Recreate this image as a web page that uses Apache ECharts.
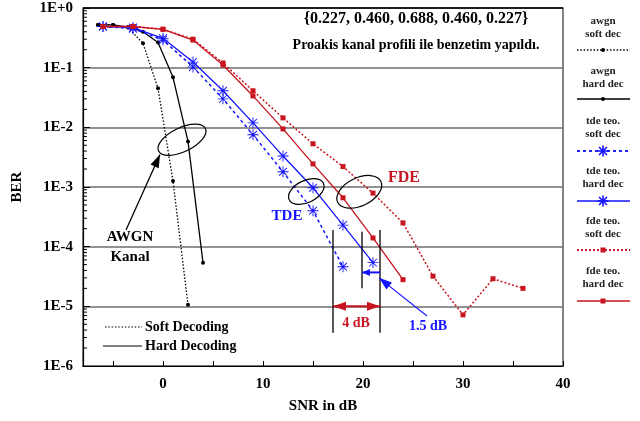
<!DOCTYPE html>
<html>
<head>
<meta charset="utf-8">
<script src="https://cdn.jsdelivr.net/npm/echarts@6/dist/echarts.min.js"></script>
<style>
  html, body { margin: 0; padding: 0; background: #fff; }
  #chart { width: 640px; height: 421px; }
</style>
</head>
<body>
<div id="chart"></div>
<script>
// ---- data ----
const snrAwgn = [-6.5, -5, -3.5, -2, -0.5, 1, 2.5, 4];
const awgnSoft = [0.52, 0.52, 0.47, 0.256, 0.045, 1.26e-3, 1.06e-5];
const awgnHard = [0.52, 0.52, 0.48, 0.40, 0.264, 0.069, 5.8e-3, 5.4e-5];

const snrTde = [-6, -3, 0, 3, 6, 9, 12, 15, 18, 21];
const tdeSoft = [0.49, 0.45, 0.29, 0.103, 0.030, 7.5e-3, 1.8e-3, 4.0e-4, 4.6e-5];
const tdeHard = [0.49, 0.47, 0.31, 0.124, 0.041, 0.0119, 3.3e-3, 9.7e-4, 2.3e-4, 5.4e-5];

const snrFde = [-6, -3, 0, 3, 6, 9, 12, 15, 18, 21, 24, 27, 30, 33, 36];
const fdeSoft = [0.49, 0.49, 0.44, 0.30, 0.12, 0.041, 0.0144, 5.3e-3, 2.2e-3, 7.9e-4, 2.5e-4, 3.2e-5, 7.2e-6, 2.9e-5, 2.0e-5];
const fdeHard = [0.49, 0.49, 0.44, 0.29, 0.111, 0.0336, 9.4e-3, 2.44e-3, 6.6e-4, 1.4e-4, 2.8e-5];

const xTickValues = [-5, 0, 5, 10, 15, 20, 25, 30, 35, 40];
const xLabelValues = [0, 10, 20, 30, 40];
const yTickLabels = ['1E+0', '1E-1', '1E-2', '1E-3', '1E-4', '1E-5', '1E-6'];

const legendNames = ['awgn\nsoft dec', 'awgn\nhard dec', 'tde teo.\nsoft dec',
                     'tde teo.\nhard dec', 'fde teo.\nsoft dec', 'fde teo.\nhard dec'];

// ---- styling ----
const FONT = '"Liberation Serif", "Times New Roman", serif';
const BLUE = '#1414ff';
const RED = '#c8141e';
const BLACK = '#000';
const ASTERISK = 'path://M0 9.2H20V10.8H0Z M9.2 0H10.8V20H9.2Z M2.3 3.5L3.5 2.3L17.7 16.5L16.5 17.7Z M16.5 2.3L17.7 3.5L3.5 17.7L2.3 16.5Z';

const zip = (xs, ys) => ys.map((v, i) => [xs[i], v]);

// minor ticks of the log axis (2..9 x 10^k), drawn on the left edge
const minorTicks = [];
for (let k = -6; k < 0; k++) {
  for (let m = 2; m <= 9; m++) minorTicks.push([-8, m * Math.pow(10, k)]);
}

const chart = echarts.init(document.getElementById('chart'), null, { renderer: 'canvas' });

const seriesDefs = [
  { data: zip(snrAwgn, awgnSoft), color: BLACK, dash: [1.5, 1.8], width: 1.3, symbol: 'circle', size: 4 },
  { data: zip(snrAwgn, awgnHard), color: BLACK, dash: 'solid', width: 1.3, symbol: 'circle', size: 4 },
  { data: zip(snrTde, tdeSoft), color: BLUE, dash: [3, 3], width: 1.5, symbol: ASTERISK, size: 11 },
  { data: zip(snrTde, tdeHard), color: BLUE, dash: 'solid', width: 1.3, symbol: ASTERISK, size: 11 },
  { data: zip(snrFde, fdeSoft), color: RED, dash: [2, 2], width: 1.5, symbol: 'rect', size: 5 },
  { data: zip(snrFde, fdeHard), color: RED, dash: 'solid', width: 1.3, symbol: 'rect', size: 5 }
];

const lineSeries = seriesDefs.map((d, i) => ({
  type: 'line',
  name: legendNames[i],
  data: d.data,
  symbol: d.symbol,
  symbolSize: d.size,
  showAllSymbol: true,
  lineStyle: { color: d.color, width: d.width, type: d.dash },
  itemStyle: { color: d.color },
  z: 3 + i
}));

chart.setOption({
  animation: false,
  backgroundColor: '#fff',
  grid: { left: 83, right: 77, top: 8, bottom: 55, show: true, borderColor: '#333', borderWidth: 1.2, backgroundColor: 'transparent' },
  xAxis: {
    type: 'value', min: -8, max: 40,
    axisLine: { onZero: false, lineStyle: { color: BLACK, width: 1.2 } },
    axisTick: { inside: true, length: 5, customValues: xTickValues, lineStyle: { color: BLACK } },
    axisLabel: { customValues: xLabelValues, fontFamily: FONT, fontWeight: 'bold', fontSize: 15, color: BLACK, margin: 11 },
    splitLine: { show: false },
    name: 'SNR in dB', nameLocation: 'middle', nameGap: 33,
    nameTextStyle: { fontFamily: FONT, fontWeight: 'bold', fontSize: 15, color: BLACK }
  },
  yAxis: {
    type: 'log', logBase: 10, min: 1e-6, max: 1, splitNumber: 6,
    axisLine: { show: true, onZero: false, lineStyle: { color: BLACK, width: 1.2 } },
    axisTick: { show: true, inside: true, length: 7, lineStyle: { color: BLACK } },
    axisLabel: {
      fontFamily: FONT, fontWeight: 'bold', fontSize: 15, color: BLACK, margin: 10,
      formatter: v => yTickLabels[-Math.round(Math.log10(v))]
    },
    splitLine: { show: true, lineStyle: { color: '#6e6e6e', width: 1.5 } },
    name: 'BER', nameLocation: 'middle', nameGap: 58, nameRotate: 90,
    nameTextStyle: { fontFamily: FONT, fontWeight: 'bold', fontSize: 15, color: BLACK }
  },
  series: lineSeries.concat([{
    type: 'custom',
    silent: true,
    clip: false,
    data: minorTicks,
    z: 10,
    renderItem: (params, api) => {
      const p = api.coord([api.value(0), api.value(1)]);
      return { type: 'line', shape: { x1: p[0], y1: p[1], x2: p[0] + 4, y2: p[1] }, style: { stroke: BLACK, lineWidth: 1 } };
    }
  }])
});

// ---- annotations (anchored in data coordinates) ----
const px = (x, y) => chart.convertToPixel({ gridIndex: 0 }, [x, y]);
const txt = (s, p, size, color, align) => ({
  type: 'text', z: 50, silent: true,
  style: { text: s, x: p[0], y: p[1], font: 'bold ' + size + 'px ' + FONT, fill: color, align: align || 'center', verticalAlign: 'middle' }
});
const seg = (a, b, color, w, dash) => ({
  type: 'line', z: 50, silent: true,
  shape: { x1: a[0], y1: a[1], x2: b[0], y2: b[1] },
  style: { stroke: color, lineWidth: w, lineDash: dash || null }
});
const head = (tip, from, len, hw, color) => {
  const dx = tip[0] - from[0], dy = tip[1] - from[1];
  const L = Math.hypot(dx, dy), ux = dx / L, uy = dy / L;
  const bx = tip[0] - ux * len, by = tip[1] - uy * len;
  return {
    type: 'polygon', z: 51, silent: true,
    shape: { points: [tip, [bx - uy * hw, by + ux * hw], [bx + uy * hw, by - ux * hw]] },
    style: { fill: color }
  };
};
const ell = (c, rx, ry, rot) => ({
  type: 'ellipse', z: 50, silent: true, x: c[0], y: c[1], rotation: rot,
  shape: { cx: 0, cy: 0, rx: rx, ry: ry },
  style: { fill: 'none', stroke: BLACK, lineWidth: 1.2 }
});
// eight-spoke star made of plain lines
const star = (cx, cy, r, color) => {
  const d = r * 0.72;
  return {
    type: 'group', z: 52, silent: true,
    children: [
      [[cx - r, cy], [cx + r, cy]], [[cx, cy - r], [cx, cy + r]],
      [[cx - d, cy - d], [cx + d, cy + d]], [[cx - d, cy + d], [cx + d, cy - d]]
    ].map(s => ({ type: 'line', shape: { x1: s[0][0], y1: s[0][1], x2: s[1][0], y2: s[1][1] }, style: { stroke: color, lineWidth: 1.6 } }))
  };
};

const g = [];
// top edge of the frame
g.push(seg(px(-8, 1), px(40, 1), BLACK, 1.4));

// AWGN group
g.push(ell(px(1.9, 6.2e-3), 26, 12, 0.45));
const aFrom = px(-3.7, 1.9e-4), aTo = px(-0.3, 3.5e-3);
g.push(seg(aFrom, aTo, BLACK, 1.3));
g.push(head(aTo, aFrom, 13, 4.5, BLACK));
g.push(txt('AWGN', px(-3.3, 1.42e-4), 15, BLACK));
g.push(txt('Kanal', px(-3.3, 6.6e-5), 15, BLACK));

// equalizer groups
g.push(ell(px(14.33, 8.4e-4), 19, 11, 0.45));
g.push(ell(px(19.63, 8.3e-4), 24, 14, 0.45));
g.push(txt('FDE', px(24.1, 1.4e-3), 16, RED));
g.push(txt('TDE', px(12.4, 3.3e-4), 15, BLUE));

// gain markers
g.push(seg(px(17, 1.9e-4), px(17, 3.6e-6), BLACK, 1.3));
g.push(seg(px(21.7, 1.9e-4), px(21.7, 3.6e-6), BLACK, 1.3));
g.push(seg(px(19.9, 1.78e-4), px(19.9, 2.0e-5), BLACK, 1.3));
const rA = px(17, 1e-5), rB = px(21.7, 1e-5);
g.push(seg(rA, rB, RED, 2));
g.push(head(rA, rB, 13, 4.5, RED));
g.push(head(rB, rA, 13, 4.5, RED));
g.push(txt('4 dB', px(19.3, 5.1e-6), 14, RED));
const bA = px(21.7, 3.7e-5), bB = px(19.9, 3.7e-5);
g.push(seg(bA, bB, BLUE, 2));
g.push(head(bB, bA, 8, 3.5, BLUE));
const lFrom = px(26.4, 6.9e-6), lTo = px(21.6, 3.0e-5);
g.push(seg(lFrom, lTo, BLUE, 1.1));
g.push(head(lTo, lFrom, 13, 4.5, BLUE));
g.push(txt('1.5 dB', px(26.5, 4.7e-6), 14, BLUE));

// channel profile note
g.push(txt('{0.227, 0.460, 0.688, 0.460, 0.227}', [416, 19], 16, BLACK));
g.push(txt('Proakis kanal profili ile benzetim yapıldı.', [416, 45], 14, BLACK));

// decoding style key inside the plot
g.push(seg([105, 327], [142, 327], BLACK, 1.2, [1.5, 1.8]));
g.push(txt('Soft Decoding', [145, 327], 14, BLACK, 'left'));
g.push(seg([103, 346], [142, 346], BLACK, 1.2));
g.push(txt('Hard Decoding', [145, 346], 14, BLACK, 'left'));

// series key on the right
const keyTop = [15, 65, 115, 165, 215, 265];
const keyLine = [50, 99, 151, 201, 250, 301];
seriesDefs.forEach((d, i) => {
  g.push({
    type: 'text', z: 50, silent: true,
    style: { text: legendNames[i], x: 603, y: keyTop[i], font: 'bold 11px ' + FONT, fill: '#222', align: 'center', verticalAlign: 'top', lineHeight: 13 }
  });
  const y = keyLine[i];
  g.push(seg([577, y], [630, y], d.color, d.width + 0.4, d.dash === 'solid' ? null : d.dash));
  if (d.symbol === 'circle') {
    g.push({ type: 'circle', z: 52, silent: true, shape: { cx: 603, cy: y, r: 2 }, style: { fill: d.color } });
  } else if (d.symbol === 'rect') {
    g.push({ type: 'rect', z: 52, silent: true, shape: { x: 600.5, y: y - 2.5, width: 5, height: 5 }, style: { fill: d.color } });
  } else {
    g.push(star(603, y, 5.5, d.color));
  }
});

chart.setOption({ graphic: g });
</script>
</body>
</html>
